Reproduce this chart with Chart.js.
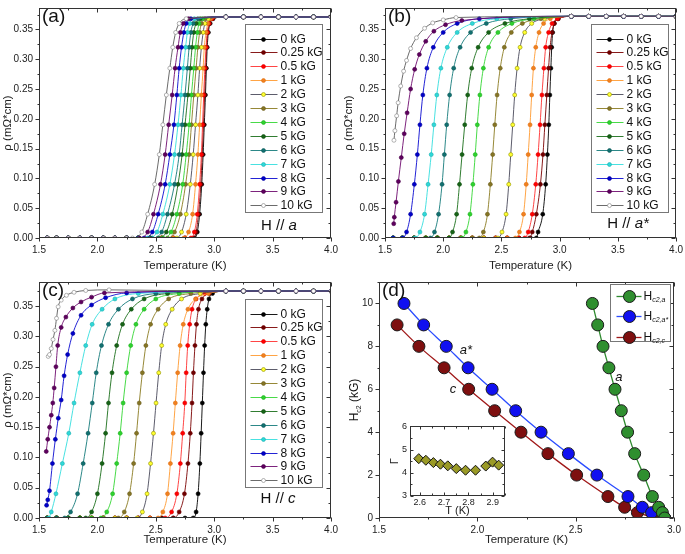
<!DOCTYPE html>
<html>
<head>
<meta charset="utf-8">
<title>Resistive transitions and Hc2</title>
<script src="https://cdn.jsdelivr.net/npm/chart.js@4.4.1/dist/chart.umd.min.js"></script>
<style>
  html, body { margin: 0; padding: 0; background: #fff; }
  #wrap { position: relative; width: 685px; height: 554px; overflow: hidden; background: #fff; }
  #wrap canvas { position: absolute; }
</style>
</head>
<body>
<div id="wrap">
  <canvas id="panelA" width="340" height="274" style="left:0px;top:0px"></canvas>
  <canvas id="panelB" width="345" height="274" style="left:340px;top:0px"></canvas>
  <canvas id="panelC" width="340" height="284" style="left:0px;top:270px"></canvas>
  <canvas id="panelD" width="345" height="284" style="left:340px;top:270px"></canvas>
  <canvas id="inset" width="125" height="100" style="left:385px;top:418px"></canvas>
</div>
<script>
const FONT = "'Liberation Sans', Arial, Helvetica, sans-serif";

// applied fields (legend order)
const fields = ['0 kG', '0.25 kG', '0.5 kG', '1 kG', '2 kG', '3 kG', '4 kG', '5 kG', '6 kG', '7 kG', '8 kG', '9 kG', '10 kG'];

// tick values
const tempTicks = [1.5, 2.0, 2.5, 3.0, 3.5, 4.0];
const rhoTicks = [0, 0.05, 0.10, 0.15, 0.20, 0.25, 0.30, 0.35];
const hc2TempTicks = [1.5, 2.0, 2.5, 3.0];
const hc2Ticks = [0, 2, 4, 6, 8, 10];
const insetTempTicks = [2.6, 2.7, 2.8, 2.9];
const gammaTicks = [3, 4, 5, 6];

// resistivity levels at which each transition was read (mOhm*cm)
const rhoLevelsAB = [0, 0.01, 0.04, 0.09, 0.14, 0.19, 0.24, 0.285, 0.32, 0.345, 0.36, 0.368];
const rhoLevelsC = [0, 0.01, 0.04, 0.09, 0.14, 0.19, 0.24, 0.285, 0.32, 0.345, 0.362, 0.371];

// zero-resistance floor and normal-state plateau points
const floorT = [1.57, 1.65, 1.75, 1.85, 1.95, 2.05, 2.15, 2.25, 2.35, 2.45, 2.55, 2.65, 2.75];
const plateauT = [3.1, 3.25, 3.4, 3.55, 3.7, 3.85, 4.0];
const plateauA = 0.371, plateauB = 0.372, plateauC = 0.375;

// (a) H // a : temperature (K) at each rho level, one row per field
const tempA = [
  [2.83, 2.855, 2.875, 2.893, 2.905, 2.915, 2.925, 2.933, 2.94, 2.95, 2.965, 2.99],
  [2.82, 2.845, 2.865, 2.885, 2.897, 2.908, 2.918, 2.927, 2.935, 2.945, 2.96, 2.985],
  [2.80, 2.83, 2.855, 2.875, 2.89, 2.90, 2.91, 2.92, 2.93, 2.94, 2.955, 2.98],
  [2.74, 2.78, 2.815, 2.84, 2.86, 2.875, 2.89, 2.905, 2.915, 2.93, 2.945, 2.97],
  [2.68, 2.72, 2.76, 2.795, 2.82, 2.84, 2.86, 2.875, 2.89, 2.905, 2.92, 2.95],
  [2.60, 2.66, 2.71, 2.755, 2.785, 2.805, 2.825, 2.845, 2.86, 2.875, 2.89, 2.92],
  [2.56, 2.63, 2.68, 2.73, 2.76, 2.785, 2.805, 2.825, 2.84, 2.855, 2.87, 2.90],
  [2.52, 2.59, 2.64, 2.69, 2.725, 2.75, 2.775, 2.795, 2.81, 2.825, 2.845, 2.88],
  [2.47, 2.55, 2.60, 2.66, 2.70, 2.725, 2.75, 2.77, 2.785, 2.80, 2.82, 2.86],
  [2.43, 2.51, 2.56, 2.62, 2.66, 2.69, 2.715, 2.735, 2.755, 2.77, 2.79, 2.83],
  [2.40, 2.47, 2.52, 2.58, 2.62, 2.655, 2.68, 2.70, 2.72, 2.74, 2.76, 2.80],
  [2.36, 2.43, 2.48, 2.54, 2.58, 2.61, 2.64, 2.665, 2.69, 2.71, 2.735, 2.78],
  [2.30, 2.38, 2.43, 2.49, 2.53, 2.56, 2.59, 2.62, 2.645, 2.67, 2.70, 2.76]
];

// (b) H // a*
const tempB = [
  [2.80, 2.815, 2.855, 2.88, 2.895, 2.907, 2.916, 2.925, 2.932, 2.94, 2.953, 2.985],
  [2.74, 2.765, 2.80, 2.835, 2.857, 2.873, 2.89, 2.905, 2.918, 2.935, 2.955, 2.99],
  [2.70, 2.73, 2.765, 2.795, 2.815, 2.832, 2.848, 2.865, 2.88, 2.905, 2.935, 2.98],
  [2.62, 2.655, 2.69, 2.713, 2.73, 2.746, 2.76, 2.775, 2.795, 2.823, 2.862, 2.92],
  [2.47, 2.505, 2.54, 2.563, 2.58, 2.597, 2.614, 2.635, 2.66, 2.70, 2.76, 2.87],
  [2.31, 2.345, 2.38, 2.405, 2.425, 2.443, 2.463, 2.49, 2.525, 2.585, 2.68, 2.84],
  [2.16, 2.195, 2.23, 2.255, 2.275, 2.293, 2.315, 2.345, 2.39, 2.47, 2.59, 2.78],
  [2.05, 2.08, 2.115, 2.14, 2.162, 2.185, 2.21, 2.245, 2.30, 2.39, 2.53, 2.74],
  [1.89, 1.925, 1.96, 1.99, 2.01, 2.03, 2.055, 2.09, 2.145, 2.235, 2.37, 2.58],
  [1.76, 1.80, 1.84, 1.87, 1.897, 1.92, 1.945, 1.98, 2.035, 2.12, 2.25, 2.46],
  [1.65, 1.685, 1.72, 1.752, 1.778, 1.80, 1.825, 1.86, 1.915, 2.0, 2.12, 2.31],
  null,
  null
];
// curves that start above zero at the lowest temperature
const tempB9 = [1.575, 1.58, 1.595, 1.615, 1.64, 1.665, 1.69, 1.72, 1.755, 1.795, 1.85, 1.92, 2.02, 2.16];
const rhoB9 = [0.024, 0.035, 0.06, 0.095, 0.135, 0.175, 0.21, 0.25, 0.283, 0.308, 0.33, 0.347, 0.358, 0.365];
const tempB10 = [1.577, 1.585, 1.60, 1.613, 1.635, 1.66, 1.685, 1.72, 1.77, 1.84, 1.91, 2.0, 2.11];
const rhoB10 = [0.164, 0.18, 0.205, 0.227, 0.255, 0.28, 0.298, 0.318, 0.336, 0.352, 0.361, 0.366, 0.37];

// (c) H // c
const tempC = [
  [2.82, 2.845, 2.862, 2.877, 2.888, 2.898, 2.908, 2.918, 2.928, 2.94, 2.955, 2.985],
  [2.65, 2.70, 2.745, 2.775, 2.795, 2.81, 2.822, 2.835, 2.848, 2.865, 2.895, 2.96],
  [2.58, 2.635, 2.68, 2.71, 2.73, 2.748, 2.76, 2.773, 2.79, 2.81, 2.845, 2.92],
  [2.52, 2.56, 2.60, 2.625, 2.648, 2.667, 2.687, 2.708, 2.735, 2.775, 2.84, 2.95],
  [2.34, 2.385, 2.425, 2.455, 2.48, 2.502, 2.525, 2.55, 2.585, 2.64, 2.72, 2.88],
  [2.18, 2.23, 2.275, 2.31, 2.335, 2.358, 2.385, 2.415, 2.455, 2.52, 2.61, 2.80],
  [2.03, 2.08, 2.13, 2.165, 2.195, 2.22, 2.25, 2.285, 2.33, 2.40, 2.50, 2.70],
  [1.90, 1.95, 2.0, 2.04, 2.07, 2.095, 2.125, 2.165, 2.215, 2.29, 2.40, 2.60],
  [1.72, 1.77, 1.83, 1.878, 1.92, 1.956, 1.99, 2.035, 2.095, 2.18, 2.30, 2.50],
  [1.585, 1.605, 1.645, 1.70, 1.755, 1.80, 1.85, 1.90, 1.955, 2.04, 2.15, 2.35],
  null,
  null,
  null
];
const tempC8 = [1.565, 1.575, 1.59, 1.615, 1.64, 1.665, 1.69, 1.715, 1.745, 1.79, 1.86, 1.95, 2.07, 2.25];
const rhoC8 = [0.021, 0.03, 0.045, 0.09, 0.13, 0.165, 0.195, 0.235, 0.27, 0.305, 0.335, 0.352, 0.364, 0.372];
const tempC9 = [1.562, 1.575, 1.59, 1.605, 1.618, 1.63, 1.645, 1.66, 1.69, 1.73, 1.79, 1.86, 1.95, 2.06];
const rhoC9 = [0.11, 0.13, 0.15, 0.17, 0.19, 0.215, 0.25, 0.285, 0.315, 0.332, 0.347, 0.357, 0.365, 0.372];
const tempC10 = [1.579, 1.59, 1.605, 1.62, 1.636, 1.65, 1.664, 1.69, 1.735, 1.8, 1.9, 2.1];
const rhoC10 = [0.267, 0.27, 0.28, 0.295, 0.31, 0.33, 0.349, 0.36, 0.368, 0.373, 0.376, 0.377];

// (d) upper critical field
const hc2aT = [2.585, 2.612, 2.639, 2.669, 2.700, 2.732, 2.764, 2.800, 2.846, 2.890, 2.922, 2.941, 2.953];
const hc2aH = [10, 9, 8, 7, 6, 5, 4, 3, 2, 1, 0.5, 0.25, 0];
const hc2asT = [1.627, 1.727, 1.842, 1.953, 2.075, 2.195, 2.324, 2.463, 2.608, 2.766, 2.839, 2.886, 2.953];
const hc2asH = [10, 9, 8, 7, 6, 5, 4, 3, 2, 1, 0.5, 0.25, 0];
const hc2cT = [1.592, 1.703, 1.831, 1.956, 2.088, 2.222, 2.359, 2.505, 2.664, 2.749, 2.814, 2.91];
const hc2cH = [9, 8, 7, 6, 5, 4, 3, 2, 1, 0.5, 0.25, 0];

// inset: anisotropy
const insetT = [2.596, 2.625, 2.656, 2.685, 2.715, 2.75, 2.788, 2.829, 2.871, 2.899, 2.924];
const gamma = [4.61, 4.54, 4.44, 4.37, 4.30, 4.18, 4.11, 4.11, 4.29, 4.46, 4.33];

// styles
const lineColors = ['#000000', '#7a0000', '#ff3030', '#ff9a30', '#4a4a5a', '#8a7a20', '#33d633', '#1a6e1a', '#147a7a', '#33dede', '#0a0ad0', '#6e0a6e', '#5a5a5a'];
const dotFill = ['#000000', '#6e0000', '#ff0000', '#f08020', '#ffff30', '#857525', '#2ed22e', '#176317', '#127070', '#2ed8d8', '#0000c8', '#5e005e', '#ffffff'];
const dotEdge = ['#000000', '#6e0000', '#e00000', '#e07010', '#909000', '#6f6020', '#20b020', '#105010', '#0c5a5a', '#20b0b0', '#0000a0', '#4a004a', '#808080'];

function drawRuns(ctx, runs, x, y, size, align) {
  const fontOf = r => (r.it ? 'italic ' : '') + (r.sub ? Math.round(size * 0.62) : size) + 'px ' + FONT;
  let w = 0;
  runs.forEach(r => { ctx.font = fontOf(r); w += ctx.measureText(r.t).width; });
  let cx = align === 'center' ? x - w / 2 : x;
  ctx.textAlign = 'left';
  ctx.textBaseline = 'middle';
  runs.forEach(r => {
    ctx.font = fontOf(r);
    ctx.fillText(r.t, cx, y + (r.sub ? size * 0.32 : 0));
    cx += ctx.measureText(r.t).width;
  });
}

function parseLabel(label) {
  if (label.indexOf('_') < 0) return [{t: label}];
  const [main, sub] = label.split('_');
  return [{t: main}, {t: sub, sub: true, it: true}];
}

function dot(ctx, x, y, r, style, fill, edge, bw) {
  ctx.beginPath();
  if (style === 'rectRot') {
    ctx.moveTo(x, y - r); ctx.lineTo(x + r, y); ctx.lineTo(x, y + r); ctx.lineTo(x - r, y); ctx.closePath();
  } else {
    ctx.arc(x, y, r, 0, Math.PI * 2);
  }
  ctx.fillStyle = fill; ctx.fill();
  ctx.lineWidth = bw; ctx.strokeStyle = edge; ctx.stroke();
}

// box + major/minor ticks on all four sides
function framePlugin(o) {
  return {
    id: 'frame',
    afterDraw(chart) {
      const {ctx, chartArea: a, scales: {x, y}} = chart;
      const L = Math.round(a.left) + 0.5, R = Math.round(a.right) - 0.5;
      const T = Math.round(a.top) + 0.5, B = Math.round(a.bottom) - 0.5;
      const out = o.out ? 1 : -1;
      const marks = (scale, vals) => {
        const step = vals[1] - vals[0];
        const res = [];
        for (let k = -1; k <= vals.length * 2; k++) {
          const m = vals[0] + k * step / 2;
          if (m < scale.min - 1e-9 || m > scale.max + 1e-9) continue;
          res.push({p: Math.round(scale.getPixelForValue(m)) + 0.5, len: k % 2 === 0 ? o.major : o.minor});
        }
        return res;
      };
      ctx.save();
      ctx.strokeStyle = '#333';
      ctx.lineWidth = 1;
      ctx.strokeRect(L, T, R - L, B - T);
      ctx.beginPath();
      marks(x, o.xt).forEach(({p, len}) => {
        ctx.moveTo(p, B); ctx.lineTo(p, B + out * len);
        ctx.moveTo(p, T); ctx.lineTo(p, T + len);
      });
      marks(y, o.yt).forEach(({p, len}) => {
        ctx.moveTo(L, p); ctx.lineTo(L - out * len, p);
        ctx.moveTo(R, p); ctx.lineTo(R - len, p);
      });
      ctx.stroke();
      ctx.restore();
    }
  };
}

function legendPlugin(o) {
  return {
    id: 'boxLegend',
    afterDraw(chart) {
      const {ctx, chartArea: a} = chart;
      const x0 = Math.round(a.left + o.dx) + 0.5, y0 = Math.round(a.top + o.dy) + 0.5;
      ctx.save();
      ctx.fillStyle = '#fff';
      ctx.fillRect(x0, y0, o.w, o.h);
      ctx.strokeStyle = '#777';
      ctx.lineWidth = 1;
      ctx.strokeRect(x0, y0, o.w, o.h);
      chart.data.datasets.forEach((ds, i) => {
        const yy = Math.round(y0 + o.first + i * o.row) + 0.5;
        ctx.strokeStyle = ds.borderColor;
        ctx.lineWidth = ds.borderWidth;
        ctx.beginPath(); ctx.moveTo(x0 + o.l1, yy); ctx.lineTo(x0 + o.l2, yy); ctx.stroke();
        dot(ctx, x0 + o.mx, yy, ds.pointRadius, ds.pointStyle, ds.pointBackgroundColor, ds.pointBorderColor, ds.pointBorderWidth);
        ctx.fillStyle = '#111';
        drawRuns(ctx, parseLabel(ds.label), x0 + o.tx, yy, o.fs, 'left');
      });
      ctx.restore();
    }
  };
}

function notesPlugin(items) {
  return {
    id: 'notes',
    afterDraw(chart) {
      const {ctx, chartArea: a, scales: {x, y}} = chart;
      items.forEach(n => {
        let px, py;
        if (n.at === 'data') { px = x.getPixelForValue(n.x); py = y.getPixelForValue(n.y); }
        else if (n.at === 'canvas') { px = n.x; py = n.y; }
        else { px = a.left + n.x; py = a.top + n.y; }
        ctx.save();
        ctx.translate(px, py);
        if (n.rot) ctx.rotate(n.rot);
        ctx.fillStyle = '#111';
        drawRuns(ctx, n.runs, 0, 0, n.fs, n.align || 'left');
        ctx.restore();
      });
    }
  };
}

function axis(a, horiz) {
  return {
    type: 'linear',
    position: horiz ? 'bottom' : 'left',
    min: a.min, max: a.max,
    afterBuildTicks: s => { s.ticks = a.ticks.map(v => ({value: v})); },
    afterFit: s => { if (horiz) s.height = a.size; else s.width = a.size; },
    grid: {display: false, drawTicks: a.tl > 0, tickLength: a.tl},
    border: {display: false},
    ticks: {callback: a.fmt, font: {family: FONT, size: a.fs}, color: '#222', padding: a.tp, maxRotation: 0, autoSkip: false},
    title: a.title
      ? {display: true, text: a.title, font: {family: FONT, size: a.tfs || 11.5}, color: '#222', padding: a.tpad}
      : {display: false}
  };
}

function panel(id, o) {
  return new Chart(document.getElementById(id), {
    type: 'scatter',
    data: {datasets: o.datasets},
    options: {
      responsive: false,
      animation: false,
      events: [],
      layout: {autoPadding: false, padding: o.pad},
      plugins: {legend: {display: false}, tooltip: {enabled: false}},
      scales: {x: axis(o.x, true), y: axis(o.y, false)}
    },
    plugins: [framePlugin(o.frame)].concat(o.legend ? [legendPlugin(o.legend)] : [], [notesPlugin(o.notes || [])])
  });
}

// build one resistivity curve from the read-off table
function rhoCurve(temps, levels, plateau) {
  const pts = temps.T.map((t, k) => ({x: t, y: temps.R ? temps.R[k] : levels[k]}));
  const first = pts[0], last = pts[pts.length - 1];
  const floor = first.y === 0 ? floorT.filter(t => t < first.x - 0.04).map(t => ({x: t, y: 0})) : [];
  const top = plateauT.filter(t => t > last.x + 0.04).map(t => ({x: t, y: plateau}));
  return floor.concat(pts, top);
}

function rhoSets(table, extra, levels, plateau) {
  return fields.map((f, i) => ({
    label: f,
    data: rhoCurve(table[i] ? {T: table[i]} : extra[i], levels, plateau),
    showLine: true,
    borderColor: lineColors[i],
    borderWidth: 0.9,
    pointRadius: 2,
    pointBorderWidth: 0.6,
    pointBackgroundColor: dotFill[i],
    pointBorderColor: dotEdge[i],
    cubicInterpolationMode: 'monotone',
    order: fields.length - i
  }));
}

const fmt2 = v => Number(v).toFixed(2);
const fmt1 = v => Number(v).toFixed(1);
const rhoLegend = {dx: 206, dy: 16, w: 77, h: 188, first: 14, row: 13.9, l1: 5, l2: 32, mx: 18, tx: 35, fs: 12};
const rhoFrame = {out: true, major: 4, minor: 2, xt: tempTicks, yt: rhoTicks};

function rhoAxes(ymax, xh, yw, titlePadX, titlePadY) {
  return {
    x: {min: 1.5, max: 4.0, ticks: tempTicks, fmt: fmt1, size: xh, tl: 4, tp: 2, fs: 10, title: 'Temperature (K)', tpad: {top: 0, bottom: titlePadX}},
    y: {min: 0, max: ymax, ticks: rhoTicks, fmt: fmt2, size: yw, tl: 4, tp: 2, fs: 10, title: 'ρ (mΩ*cm)', tpad: {top: titlePadY, bottom: 0}}
  };
}

const axA = rhoAxes(0.386, 36, 39, 1, 1);
panel('panelA', {
  datasets: rhoSets(tempA, {}, rhoLevelsAB, plateauA),
  pad: {left: 0, top: 3, right: 7, bottom: 0},
  x: axA.x, y: axA.y, frame: rhoFrame, legend: rhoLegend,
  notes: [
    {x: 3, y: 9, runs: [{t: '(a)'}], fs: 19},
    {x: 240, y: 218, runs: [{t: 'H // '}, {t: 'a', it: true}], fs: 15, align: 'center'}
  ]
});

const axB = rhoAxes(0.386, 36, 45, 1, 2);
panel('panelB', {
  datasets: rhoSets(tempB, {11: {T: tempB9, R: rhoB9}, 12: {T: tempB10, R: rhoB10}}, rhoLevelsAB, plateauB),
  pad: {left: 0, top: 3, right: 6, bottom: 0},
  x: axB.x, y: axB.y, frame: rhoFrame, legend: rhoLegend,
  notes: [
    {x: 3, y: 9, runs: [{t: '(b)'}], fs: 19},
    {x: 243, y: 216, runs: [{t: 'H // '}, {t: 'a*', it: true}], fs: 15, align: 'center'}
  ]
});

const axC = rhoAxes(0.39, 36, 39, 7, 1);
panel('panelC', {
  datasets: rhoSets(tempC, {10: {T: tempC8, R: rhoC8}, 11: {T: tempC9, R: rhoC9}, 12: {T: tempC10, R: rhoC10}}, rhoLevelsC, plateauC),
  pad: {left: 0, top: 12, right: 6, bottom: 0},
  x: axC.x, y: axC.y, frame: rhoFrame, legend: Object.assign({}, rhoLegend, {dy: 17}),
  notes: [
    {x: 3, y: 9, runs: [{t: '(c)'}], fs: 19},
    {x: 239, y: 217, runs: [{t: 'H // '}, {t: 'c', it: true}], fs: 15, align: 'center'}
  ]
});

function hc2Set(label, T, H, line, fill) {
  return {
    label, data: T.map((t, k) => ({x: t, y: H[k]})),
    showLine: true, borderColor: line, borderWidth: 1.3,
    pointRadius: 6, pointBorderWidth: 1, pointBackgroundColor: fill, pointBorderColor: '#1a1a1a',
    cubicInterpolationMode: 'monotone'
  };
}

panel('panelD', {
  datasets: [
    hc2Set('H_c2,a', hc2aT, hc2aH, '#2f8a2f', '#2f8f2f'),
    hc2Set('H_c2,a*', hc2asT, hc2asH, '#2a4cff', '#1010f0'),
    hc2Set('H_c2,c', hc2cT, hc2cH, '#a01818', '#7e0f0f')
  ],
  pad: {left: 0, top: 12, right: 11, bottom: 0},
  x: {min: 1.5, max: 3.0, ticks: hc2TempTicks, fmt: fmt1, size: 36, tl: 4, tp: 2, fs: 10, title: 'Temperature (K)', tpad: {top: 0, bottom: 7}},
  y: {min: 0, max: 11, ticks: hc2Ticks, fmt: v => String(v), size: 39, tl: 4, tp: 2, fs: 10},
  frame: {out: true, major: 4, minor: 2, xt: hc2TempTicks, yt: hc2Ticks},
  legend: {dx: 231, dy: 2, w: 60, h: 57, first: 11, row: 20.5, l1: 6, l2: 31, mx: 19, tx: 33, fs: 12},
  notes: [
    {x: 3, y: 9, runs: [{t: '(d)'}], fs: 19},
    {at: 'canvas', x: 15, y: 130, rot: -Math.PI / 2, runs: [{t: 'H'}, {t: 'c2', sub: true}, {t: ' (kG)'}], fs: 12, align: 'center'},
    {at: 'data', x: 1.942, y: 7.8, runs: [{t: 'a*', it: true}], fs: 13, align: 'center'},
    {at: 'data', x: 1.876, y: 6.0, runs: [{t: 'c', it: true}], fs: 13, align: 'center'},
    {at: 'data', x: 2.72, y: 6.55, runs: [{t: 'a', it: true}], fs: 13, align: 'center'}
  ]
});

panel('inset', {
  datasets: [{
    label: 'Γ', data: insetT.map((t, k) => ({x: t, y: gamma[k]})),
    showLine: false, pointStyle: 'rectRot', pointRadius: 5, pointBorderWidth: 1,
    pointBackgroundColor: '#9a9a26', pointBorderColor: '#111'
  }],
  pad: {left: 0, top: 6, right: 5, bottom: 0},
  x: {min: 2.56, max: 2.95, ticks: insetTempTicks, fmt: fmt1, size: 22, tl: 0, tp: 1, fs: 9, title: 'T (K)', tfs: 11, tpad: {top: 0, bottom: 0}},
  y: {min: 3, max: 6, ticks: gammaTicks, fmt: v => String(v), size: 25, tl: 0, tp: 3, fs: 9, title: 'Γ', tfs: 11, tpad: {top: 3, bottom: 0}},
  frame: {out: false, major: 3, minor: 2, xt: insetTempTicks, yt: gammaTicks}
});
</script>
</body>
</html>
